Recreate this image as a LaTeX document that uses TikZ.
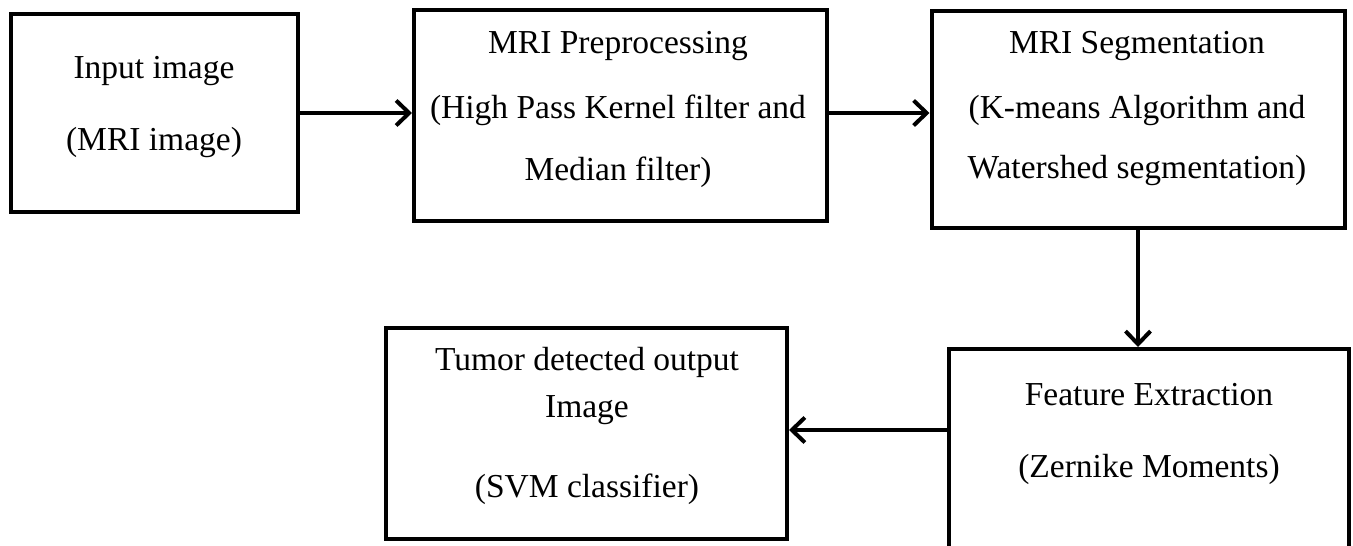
\documentclass[tikz,border=0pt]{standalone}
\usepackage{fontspec}
\setmainfont{Liberation Serif}
\usetikzlibrary{arrows.meta}
\begin{document}
\begin{tikzpicture}[x=1pt,y=-1pt,
  box/.style={draw=black,line width=4pt,rectangle,inner sep=0pt,fill=white},
  lbl/.style={anchor=base,inner sep=0pt,font=\fontsize{33.5}{40}\selectfont},
  arr/.style={line width=3.6pt,-{Straight Barb[length=13pt,width=25pt,line width=4pt]}}]
\useasboundingbox (0,0) rectangle (1353,546);
\fill[white] (0,0) rectangle (1353,546);
\begin{scope}
\clip (0,0) rectangle (1353,546);
\node[box,minimum width=287pt,minimum height=198pt] (b1) at (154.5,113) {};
\node[box,minimum width=413pt,minimum height=211pt] (b2) at (620.5,115.5) {};
\node[box,minimum width=413pt,minimum height=217pt] (b3) at (1138,119.5) {};
\node[box,minimum width=401pt,minimum height=211pt] (b4) at (586.5,433.5) {};
\node[box,minimum width=400pt,minimum height=199pt] (b5) at (1149,448.5) {};
\end{scope}
% labels
\node[lbl] (t1a) at (154,78) {Input image};
\node[lbl] (t1b) at (154,150) {(MRI image)};
\node[lbl] (t2a) at (618,53) {MRI Preprocessing};
\node[lbl] (t2b) at (618,118) {(High Pass Kernel filter and};
\node[lbl] (t2c) at (618,180) {Median filter)};
\node[lbl] (t3a) at (1137,53) {MRI Segmentation};
\node[lbl] (t3b) at (1137,118) {(K-means Algorithm and};
\node[lbl] (t3c) at (1137,178) {Watershed segmentation)};
\node[lbl] (t4a) at (587,370) {Tumor detected output};
\node[lbl] (t4b) at (587,417) {Image};
\node[lbl] (t4c) at (587,497) {(SVM classifier)};
\node[lbl] (t5a) at (1149,405) {Feature Extraction};
\node[lbl] (t5b) at (1149,477) {(Zernike Moments)};
% connectors
\draw[arr] (b1.east) -- (b1.east -| b2.west);
\draw[arr] (b2.east |- 0,113) -- (b3.west |- 0,113);
\draw[arr] (b3.south) -- (b3.south |- b5.north);
\draw[arr] (b5.west |- 0,430) -- (b4.east |- 0,430);
\end{tikzpicture}
\end{document}
